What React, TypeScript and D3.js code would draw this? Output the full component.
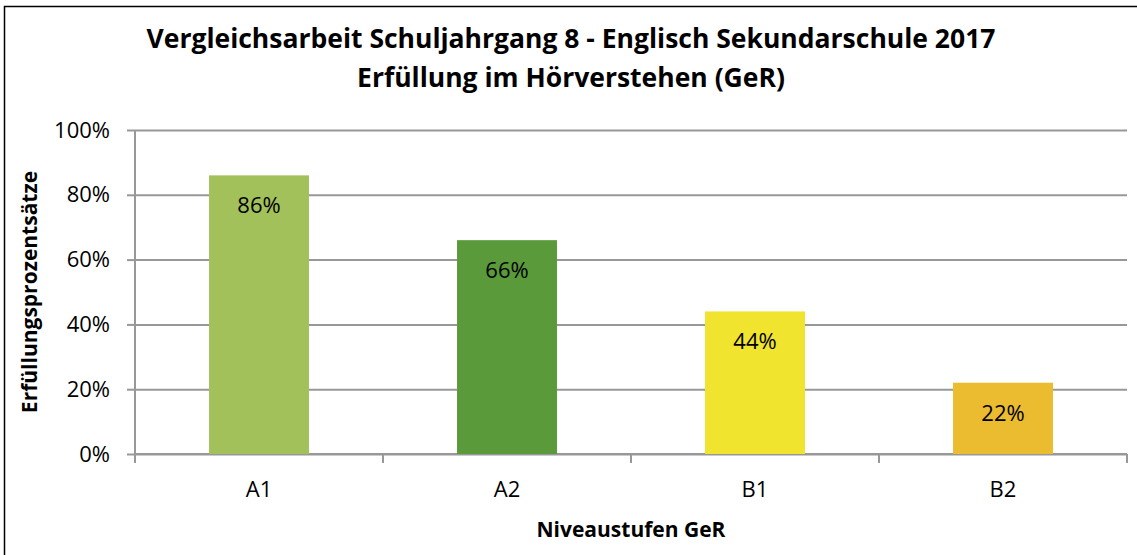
import React, { useEffect, useRef } from 'react';
import * as d3 from 'd3';

// Niveaustufen and Erfüllung values
const categories: string[] = ['A1', 'A2', 'B1', 'B2'];
const values: number[] = [0.86, 0.66, 0.44, 0.22];
const barColors: string[] = ['#a3c15b', '#5a9a3b', '#f0e42f', '#ebbc30'];
const yTicks: number[] = [0, 0.2, 0.4, 0.6, 0.8, 1.0];

const titleLines: string[] = [
    'Vergleichsarbeit Schuljahrgang 8 - Englisch Sekundarschule 2017',
    'Erfüllung im Hörverstehen (GeR)'
];
const yTitle = 'Erfüllungsprozentsätze';
const xTitle = 'Niveaustufen GeR';

const width = 1137;
const height = 555;
const font = '"Open Sans", "Noto Sans", sans-serif';

const App = () => {
    const svgRef = useRef<SVGSVGElement>(null);

    useEffect(() => {
        const svg = d3.select(svgRef.current);
        svg.selectAll('*').remove();

        const margin = { top: 130, right: 10, bottom: 101, left: 135 };
        const innerWidth = width - margin.left - margin.right;
        const innerHeight = height - margin.top - margin.bottom;

        // Outer frame (runs past the right and bottom edges of the picture)
        svg.append('rect')
            .attr('x', 4.5).attr('y', 6.5)
            .attr('width', width + 20).attr('height', height + 20)
            .attr('fill', '#fff')
            .attr('stroke', '#000')
            .attr('stroke-width', 1.5);

        // Title
        svg.append('text')
            .attr('text-anchor', 'middle')
            .attr('font-family', font)
            .attr('font-weight', 'bold')
            .attr('font-size', '26.5px')
            .attr('fill', '#000')
            .selectAll('tspan')
            .data(titleLines)
            .enter()
            .append('tspan')
            .attr('x', 571)
            .attr('y', (d, i) => 48 + i * 39)
            .text(d => d);

        const g = svg.append('g')
            .attr('transform', `translate(${margin.left},${margin.top})`);

        const xScale = d3.scaleBand<string>()
            .domain(categories)
            .range([0, innerWidth])
            .paddingInner(0.597)
            .paddingOuter(0.2985);

        const yScale = d3.scaleLinear()
            .domain([0, 1])
            .range([innerHeight, 0]);

        // Grid lines
        g.append('g')
            .call(d3.axisLeft(yScale)
                .tickValues(yTicks)
                .tickSize(-innerWidth)
                .tickFormat(() => ''))
            .call(sel => sel.select('.domain').remove())
            .selectAll('line')
            .attr('stroke', '#989898')
            .attr('stroke-width', 2);

        // Y axis ticks and labels
        g.append('g')
            .call(d3.axisLeft(yScale)
                .tickValues(yTicks)
                .tickSize(8)
                .tickPadding(17)
                .tickFormat(d => `${Math.round(+d * 100)}%`))
            .call(sel => sel.select('.domain').remove())
            .call(sel => sel.selectAll('line').attr('stroke', '#989898').attr('stroke-width', 2))
            .selectAll('text')
            .attr('font-family', font)
            .attr('font-size', '22px')
            .attr('fill', '#000');

        // Y axis line (extends below to tick length)
        g.append('line')
            .attr('x1', 0).attr('x2', 0)
            .attr('y1', 0).attr('y2', innerHeight + 9)
            .attr('stroke', '#989898')
            .attr('stroke-width', 2);

        // X axis: baseline, tick marks at category boundaries
        g.append('line')
            .attr('x1', 0).attr('x2', innerWidth)
            .attr('y1', innerHeight).attr('y2', innerHeight)
            .attr('stroke', '#989898')
            .attr('stroke-width', 2);

        const step = xScale.step();
        g.selectAll('.xtick')
            .data(categories)
            .enter()
            .append('line')
            .attr('class', 'xtick')
            .attr('x1', (d, i) => (i + 1) * step)
            .attr('x2', (d, i) => (i + 1) * step)
            .attr('y1', innerHeight)
            .attr('y2', innerHeight + 9)
            .attr('stroke', '#989898')
            .attr('stroke-width', 2);

        g.selectAll('.xlabel')
            .data(categories)
            .enter()
            .append('text')
            .attr('class', 'xlabel')
            .attr('x', d => (xScale(d) as number) + xScale.bandwidth() / 2)
            .attr('y', innerHeight + 43)
            .attr('text-anchor', 'middle')
            .attr('font-family', font)
            .attr('font-size', '22px')
            .attr('fill', '#000')
            .text(d => d);

        // Bars
        g.selectAll('.bar')
            .data(values)
            .enter()
            .append('rect')
            .attr('class', 'bar')
            .attr('x', (d, i) => xScale(categories[i]) as number)
            .attr('y', d => yScale(d))
            .attr('width', xScale.bandwidth())
            .attr('height', d => innerHeight - yScale(d))
            .attr('fill', (d, i) => barColors[i]);

        // Value labels inside the bars
        g.selectAll('.vlabel')
            .data(values)
            .enter()
            .append('text')
            .attr('class', 'vlabel')
            .attr('x', (d, i) => (xScale(categories[i]) as number) + xScale.bandwidth() / 2)
            .attr('y', d => yScale(d) + 38)
            .attr('text-anchor', 'middle')
            .attr('font-family', font)
            .attr('font-size', '22px')
            .attr('fill', '#000')
            .text(d => `${Math.round(d * 100)}%`);

        // Axis titles
        svg.append('text')
            .attr('transform', 'translate(37,292) rotate(-90)')
            .attr('text-anchor', 'middle')
            .attr('font-family', font)
            .attr('font-weight', 'bold')
            .attr('font-size', '21px')
            .attr('fill', '#000')
            .text(yTitle);

        svg.append('text')
            .attr('x', 631)
            .attr('y', 537)
            .attr('text-anchor', 'middle')
            .attr('font-family', font)
            .attr('font-weight', 'bold')
            .attr('font-size', '21px')
            .attr('fill', '#000')
            .text(xTitle);
    }, []);

    return (
        <div style={{ position: 'fixed', left: 0, top: 0, background: '#fff' }}>
            <svg ref={svgRef} width={width} height={height} style={{ display: 'block' }}></svg>
        </div>
    );
};

export default App;
